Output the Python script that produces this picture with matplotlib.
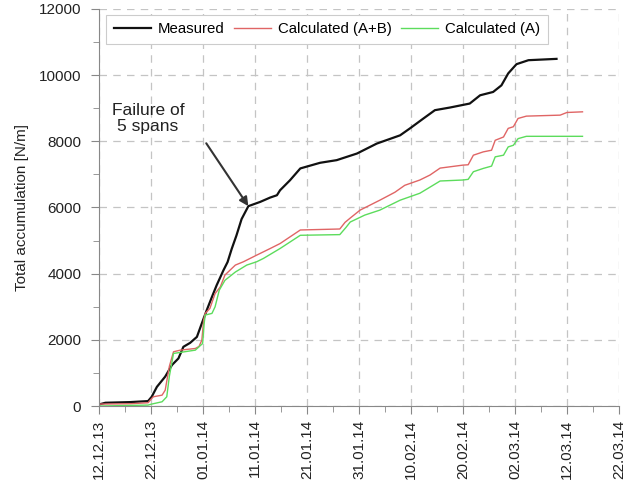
import datetime as dt
import numpy as np
import matplotlib
matplotlib.use("Agg")
import matplotlib.pyplot as plt
import matplotlib.dates as mdates
from matplotlib.ticker import FixedLocator, MultipleLocator

plt.rcParams['font.family'] = ['Liberation Sans', 'DejaVu Sans']

start = dt.datetime(2013, 12, 12)

# days since 12.12.13 and accumulated load [N/m]
meas_days = [0, 1.2, 6.0, 9.4, 10.1, 11.1, 12.7, 14.0, 15.25, 16.2, 17.5, 18.8,
             19.75, 20.7, 21.7, 22.6, 23.9, 24.7, 25.5, 26.4, 27.4, 28.7, 31.0,
             32.9, 34.2, 34.8, 36.7, 38.7, 42.5, 45.7, 49.6, 53.4, 57.9, 59.8,
             62.4, 64.6, 67.5, 71.3, 73.3, 75.8, 77.4, 78.7, 80.3, 82.6, 88.0]
meas_vals = [50, 100, 120, 150, 280, 580, 890, 1240, 1440, 1790, 1910, 2090,
             2500, 2900, 3300, 3650, 4100, 4350, 4750, 5150, 5650, 6040, 6170,
             6300, 6370, 6520, 6820, 7180, 7350, 7430, 7630, 7930, 8180, 8390,
             8690, 8940, 9020, 9140, 9390, 9490, 9690, 10050, 10330, 10450, 10490]

ab_days = [0, 6.0, 9.4, 10.4, 12.1, 12.7, 13.5, 14.3, 15.6, 18.5, 19.2, 19.75,
           20.1, 20.4, 21.3, 22.3, 23.3, 24.2, 25.2, 26.2, 27.75, 30.3, 32.9,
           34.8, 36.7, 38.7, 46.3, 47.3, 48.3, 50.2, 52.1, 54.0, 56.9, 58.8,
           61.7, 63.65, 65.6, 70.0, 71.0, 72.0, 73.9, 75.5, 76.2, 77.8, 78.7,
           79.7, 80.6, 82.2, 88.7, 90.0, 93.0]
ab_vals = [60, 70, 100, 280, 330, 480, 1200, 1640, 1690, 1740, 1800, 1990,
           2600, 2800, 2950, 3400, 3600, 3960, 4110, 4260, 4360, 4560, 4760,
           4910, 5110, 5320, 5350, 5550, 5680, 5920, 6070, 6220, 6460, 6670,
           6830, 6980, 7190, 7280, 7290, 7580, 7680, 7730, 8030, 8130, 8390,
           8440, 8690, 8760, 8790, 8870, 8890]

a_days = [0, 9.4, 10.1, 12.1, 13.0, 13.5, 14.3, 18.5, 19.9, 20.2, 20.4, 21.7,
          22.3, 23.1, 24.2, 26.2, 28.4, 30.3, 31.6, 34.8, 38.7, 46.3, 47.5,
          48.3, 51.1, 54.0, 57.9, 61.7, 63.5, 65.6, 70.0, 71.0, 72.0, 73.9,
          75.5, 76.2, 77.8, 78.7, 79.7, 80.6, 82.2, 93.0]
a_vals = [0, 30, 60, 130, 280, 900, 1590, 1690, 1890, 2500, 2750, 2800,
          3000, 3500, 3800, 4050, 4260, 4360, 4460, 4760, 5160, 5180, 5400,
          5560, 5770, 5920, 6220, 6430, 6600, 6800, 6830, 6850, 7080, 7180,
          7250, 7530, 7580, 7830, 7880, 8080, 8150, 8150]


def to_dates(days):
    return [start + dt.timedelta(days=d) for d in days]


fig = plt.figure(figsize=(6.4, 4.94), dpi=100)
ax = fig.add_axes([0.155, 0.178, 0.812, 0.804])

ax.plot(to_dates(meas_days), meas_vals, color='#111111', lw=1.6, label='Measured')
ax.plot(to_dates(ab_days), ab_vals, color='#e06565', lw=1.0, label='Calculated (A+B)')
ax.plot(to_dates(a_days), a_vals, color='#5cdc5c', lw=1.0, label='Calculated (A)')

x0 = mdates.date2num(start)
ax.set_xlim(x0, x0 + 100)
ax.set_ylim(0, 12000)
ax.xaxis.set_major_locator(FixedLocator(x0 + np.arange(0, 101, 10)))
ax.xaxis.set_minor_locator(FixedLocator(x0 + np.arange(5, 100, 10)))
ax.xaxis.set_major_formatter(mdates.DateFormatter('%d.%m.%y'))
ax.yaxis.set_major_locator(MultipleLocator(2000))
ax.yaxis.set_minor_locator(MultipleLocator(1000))

for s in ['top', 'right']:
    ax.spines[s].set_visible(False)
for s in ['left', 'bottom']:
    ax.spines[s].set_color('#888888')

ax.tick_params(axis='both', which='both', color='#888888', labelsize=11,
               labelcolor='#222222')
ax.tick_params(axis='both', which='major', length=6)
ax.tick_params(axis='both', which='minor', length=4)
ax.tick_params(axis='y', which='major', pad=7)
ax.tick_params(axis='x', labelrotation=90)

ax.grid(True, which='major', color='#c4c4c4', linestyle=(0, (6, 5)), lw=0.9)

ax.set_ylabel('Total accumulation [N/m]', fontsize=11, color='#222222',
              labelpad=7)

leg = ax.legend(loc='upper left', bbox_to_anchor=(0.0135, 0.985), ncol=3,
                fontsize=10.8, handlelength=2.5, columnspacing=0.6,
                fancybox=False, framealpha=1, edgecolor='#cccccc',
                borderpad=0.5, handletextpad=0.45, borderaxespad=0)
leg.get_frame().set_linewidth(0.8)

# failure annotation
ax.text(x0 + 9.4, 8700, 'Failure of\n5 spans', ha='center', va='center',
        fontsize=12.5, color='#222222', linespacing=1.1)
ax.annotate('', xy=(x0 + 28.7, 6040), xytext=(x0 + 20.6, 7940),
            arrowprops=dict(arrowstyle='-|>', color='#333333', lw=1.5,
                            mutation_scale=13, shrinkA=0, shrinkB=0))

fig.savefig('out.png', dpi=100)
